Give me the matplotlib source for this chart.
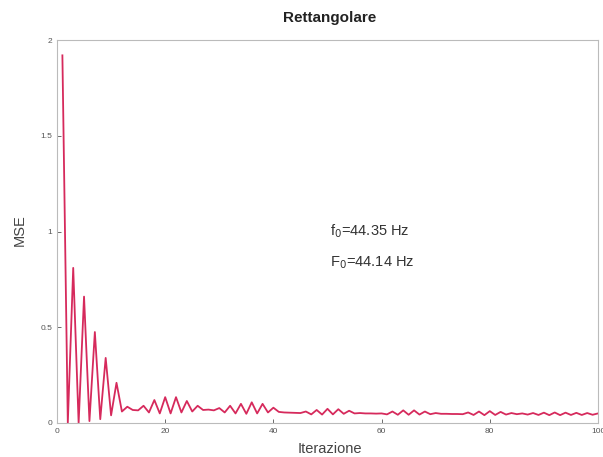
import numpy as np
import matplotlib
matplotlib.use('Agg')
import matplotlib.pyplot as plt

plt.rcParams['font.family'] = ['Liberation Sans', 'DejaVu Sans']

# MSE per iterazione
iterazioni = np.arange(1, 101)
mse = [
    1.92, 0.00, 0.81, 0.00, 0.66, 0.01, 0.475, 0.02, 0.34, 0.04,
    0.21, 0.06, 0.085, 0.068, 0.066, 0.09, 0.055, 0.12, 0.05, 0.135,
    0.05, 0.135, 0.055, 0.115, 0.06, 0.09, 0.068, 0.07, 0.066, 0.078,
    0.055, 0.09, 0.05, 0.10, 0.048, 0.108, 0.05, 0.10, 0.055, 0.08,
    0.058, 0.055, 0.054, 0.053, 0.052, 0.06, 0.045, 0.068, 0.044, 0.074,
    0.045, 0.072, 0.048, 0.064, 0.05, 0.052, 0.05, 0.05, 0.049, 0.05,
    0.045, 0.06, 0.043, 0.066, 0.043, 0.066, 0.044, 0.06, 0.046, 0.052,
    0.048, 0.048, 0.047, 0.047, 0.046, 0.055, 0.042, 0.06, 0.041, 0.062,
    0.042, 0.058, 0.044, 0.052, 0.046, 0.05, 0.044, 0.052, 0.042, 0.054,
    0.041, 0.055, 0.041, 0.054, 0.042, 0.053, 0.042, 0.052, 0.043, 0.05,
]
xticks = [0, 20, 40, 60, 80, 100]
yticks = [0, 0.5, 1, 1.5, 2]
ytick_labels = ['0', '0.5', '1', '1.5', '2']

fig = plt.figure(figsize=(6.03, 4.57), dpi=100)
ax = fig.add_axes([0.0945, 0.0744, 0.8972, 0.838])

ax.plot(iterazioni, mse, color='#d62a5c', linewidth=1.3)

ax.set_xlim(0, 100)
ax.set_ylim(0, 2)
ax.set_xticks(xticks)
ax.set_yticks(yticks)
ax.set_yticklabels(ytick_labels)
ax.tick_params(direction='in', length=3, labelsize=6, colors='#555555', width=0.6)
for s in ax.spines.values():
    s.set_color('#bbbbbb')
    s.set_linewidth(0.8)

ax.text(50.5, 1.0, r'f$_0$=44.35 Hz', fontsize=10.5, color='#333333', va='center')
ax.text(50.5, 0.84, r'F$_0$=44.14 Hz', fontsize=10.5, color='#333333', va='center')

fig.text(330 / 603, 1 - 18 / 457, 'Rettangolare', ha='center', va='center',
         fontsize=11, fontweight='bold', color='#222222')
fig.text(330 / 603, 1 - 449 / 457, 'Iterazione', ha='center', va='center',
         fontsize=10.5, color='#444444')
fig.text(20 / 603, 1 - 230 / 457, 'MSE', ha='center', va='center',
         fontsize=10.5, color='#444444', rotation=90)

fig.savefig('out.png', dpi=100)
